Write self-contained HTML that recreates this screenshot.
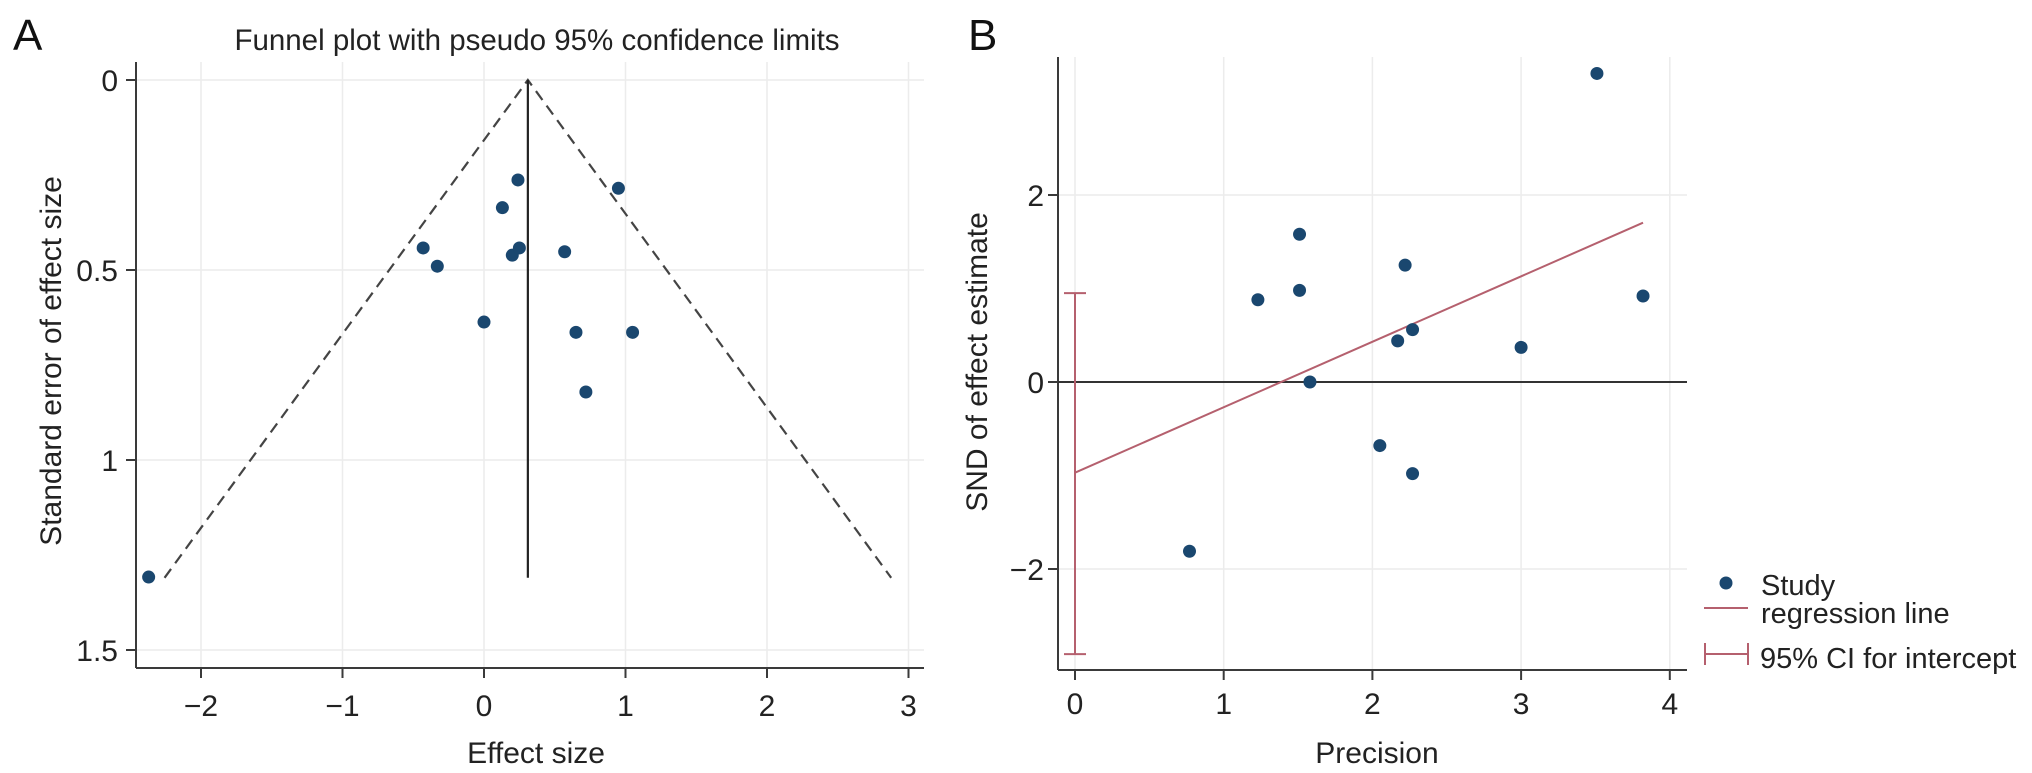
<!DOCTYPE html>
<html><head><meta charset="utf-8"><style>
html,body{margin:0;padding:0;background:#fff;}
svg{display:block;font-family:"Liberation Sans",sans-serif;}
</style></head><body>
<svg id="chart" width="2032" height="773" viewBox="0 0 2032 773" xmlns="http://www.w3.org/2000/svg">
<rect width="2032" height="773" fill="#fff"/>
<g id="pa"></g>
<g id="pb"></g>
</svg>
<script>
// Panel A data
const aEffect = [-2.37,-0.43,-0.33,0.0,0.13,0.24,0.20,0.25,0.57,0.65,0.72,0.95,1.05];
const aSE     = [1.308,0.442,0.49,0.637,0.336,0.263,0.461,0.442,0.452,0.664,0.821,0.285,0.664];
const aPooled = [0.31];
const aMaxSE  = [1.31];
const aXTicks = [-2,-1,0,1,2,3];
const aYTicks = [0,0.5,1,1.5];
const aYTickLabels = ["0","0.5","1","1.5"];
// Panel B data
const bPrecision = [0.77,1.23,1.51,1.51,1.58,3.51,2.22,3.82,2.27,2.17,3.0,2.05,2.27];
const bSND       = [-1.81,0.88,1.58,0.98,0.0,3.30,1.25,0.92,0.56,0.44,0.37,-0.68,-0.98];
const bIntercept = [-0.97];
const bSlope     = [0.70];
const bCI        = [-2.91,0.95];
const bXTicks = [0,1,2,3,4];
const bYTicks = [-2,0,2];

const NS="http://www.w3.org/2000/svg";
function mk(parent,tag,attrs,text){const e=document.createElementNS(NS,tag);for(const k in attrs)e.setAttribute(k,attrs[k]);if(text!==undefined)e.textContent=text;parent.appendChild(e);return e;}
const AX="#3a3a3a", GRID="#ececec", DOT="#1a476f", RED="#b5606e";
const FS=30;

// ---- Panel A ----
const pa=document.getElementById('pa');
const ax=v=>484+v*141.5, ay=v=>80+v*380;
const aL=136,aR=924,aT=62,aB=668;
let t;
t=mk(pa,'text',{x:13,y:50,'font-size':44,fill:'#111'},'A');


t=mk(pa,'text',{x:537,y:50,'font-size':29.5,fill:'#222','text-anchor':'middle'},'Funnel plot with pseudo 95% confidence limits');


aXTicks.forEach(v=>{
  const g=mk(pa,'line',{x1:ax(v),x2:ax(v),y1:aT,y2:aB,stroke:GRID,'stroke-width':1.5});
  
  
  const tk=mk(pa,'line',{x1:ax(v),x2:ax(v),y1:aB,y2:aB+10,stroke:AX,'stroke-width':2});
  
  
  const l=mk(pa,'text',{x:ax(v),y:716,'font-size':FS,fill:'#222','text-anchor':'middle'},v<0?'\u2212'+Math.abs(v):String(v));
  
  
});
aYTicks.forEach((v,i)=>{
  const g=mk(pa,'line',{x1:aL,x2:aR,y1:ay(v),y2:ay(v),stroke:GRID,'stroke-width':1.5});
  
  
  const tk=mk(pa,'line',{x1:aL-10,x2:aL,y1:ay(v),y2:ay(v),stroke:AX,'stroke-width':2});
  
  
  const l=mk(pa,'text',{x:aL-18,y:ay(v)+11,'font-size':FS,fill:'#222','text-anchor':'end'},aYTickLabels[i]);
  
  
});
t=mk(pa,'line',{x1:aL,x2:aL,y1:aT,y2:aB,stroke:AX,'stroke-width':2});


t=mk(pa,'line',{x1:aL,x2:aR,y1:aB,y2:aB,stroke:AX,'stroke-width':2});


t=mk(pa,'text',{x:536,y:763,'font-size':FS,fill:'#222','text-anchor':'middle'},'Effect size');


t=mk(pa,'text',{x:0,y:0,'font-size':FS,fill:'#222','text-anchor':'middle',transform:'translate(61,361) rotate(-90)'},'Standard error of effect size');


const p0=aPooled[0], m=aMaxSE[0];
t=mk(pa,'polyline',{points:`${ax(p0-1.96*m)},${ay(m)} ${ax(p0)},${ay(0)} ${ax(p0+1.96*m)},${ay(m)}`,fill:'none',stroke:'#444','stroke-width':2.2,'stroke-dasharray':'11,7'});


t=mk(pa,'line',{x1:ax(p0),x2:ax(p0),y1:ay(0),y2:ay(m),stroke:'#222','stroke-width':2.2});


aEffect.forEach((v,i)=>{
  const c=mk(pa,'circle',{cx:ax(v),cy:ay(aSE[i]),r:6.5,fill:DOT});
  
  
});

// ---- Panel B ----
const pb=document.getElementById('pb');
const bx=v=>1075+v*148.7, by=v=>382-v*93.5;
const bL=1058,bR=1687,bT=57,bB=670;
t=mk(pb,'text',{x:968,y:50,'font-size':44,fill:'#111'},'B');


bXTicks.forEach(v=>{
  const g=mk(pb,'line',{x1:bx(v),x2:bx(v),y1:bT,y2:bB,stroke:GRID,'stroke-width':1.5});
  
  
  const tk=mk(pb,'line',{x1:bx(v),x2:bx(v),y1:bB,y2:bB+10,stroke:AX,'stroke-width':2});
  
  
  const l=mk(pb,'text',{x:bx(v),y:714,'font-size':FS,fill:'#222','text-anchor':'middle'},String(v));
  
  
});
bYTicks.forEach(v=>{
  const g=mk(pb,'line',{x1:bL,x2:bR,y1:by(v),y2:by(v),stroke:GRID,'stroke-width':1.5});
  
  
  const tk=mk(pb,'line',{x1:bL-10,x2:bL,y1:by(v),y2:by(v),stroke:AX,'stroke-width':2});
  
  
  const l=mk(pb,'text',{x:bL-14,y:by(v)+11,'font-size':FS,fill:'#222','text-anchor':'end'},v<0?'\u2212'+Math.abs(v):String(v));
  
  
});
t=mk(pb,'line',{x1:bL,x2:bL,y1:bT,y2:bB,stroke:AX,'stroke-width':2});


t=mk(pb,'line',{x1:bL,x2:bR,y1:bB,y2:bB,stroke:AX,'stroke-width':2});


t=mk(pb,'line',{x1:bL,x2:bR,y1:by(0),y2:by(0),stroke:'#333','stroke-width':2});


t=mk(pb,'text',{x:1377,y:763,'font-size':FS,fill:'#222','text-anchor':'middle'},'Precision');


t=mk(pb,'text',{x:0,y:0,'font-size':FS,fill:'#222','text-anchor':'middle',transform:'translate(987,362) rotate(-90)'},'SND of effect estimate');


// CI error bar
const ciG=mk(pb,'g',{stroke:RED,'stroke-width':2});


mk(ciG,'line',{x1:bx(0),x2:bx(0),y1:by(bCI[0]),y2:by(bCI[1])});
mk(ciG,'line',{x1:bx(0)-11,x2:bx(0)+11,y1:by(bCI[0]),y2:by(bCI[0])});
mk(ciG,'line',{x1:bx(0)-11,x2:bx(0)+11,y1:by(bCI[1]),y2:by(bCI[1])});
// regression line
const xmax=Math.max(...bPrecision);
t=mk(pb,'line',{x1:bx(0),y1:by(bIntercept[0]),x2:bx(xmax),y2:by(bIntercept[0]+bSlope[0]*xmax),stroke:RED,'stroke-width':2});


bPrecision.forEach((v,i)=>{
  const c=mk(pb,'circle',{cx:bx(v),cy:by(bSND[i]),r:6.5,fill:DOT});
  
  
});
// legend
const lg=mk(pb,'g',{});


t=mk(lg,'circle',{cx:1726,cy:583,r:6.5,fill:DOT});


t=mk(lg,'text',{x:1761,y:595,'font-size':29,fill:'#222'},'Study');


t=mk(lg,'line',{x1:1704,x2:1748,y1:608,y2:608,stroke:RED,'stroke-width':2});


t=mk(lg,'text',{x:1761,y:623,'font-size':29,fill:'#222'},'regression line');


const lci=mk(lg,'g',{stroke:RED,'stroke-width':2});


mk(lci,'line',{x1:1705,x2:1748,y1:654,y2:654});
mk(lci,'line',{x1:1705,x2:1705,y1:643,y2:665});
mk(lci,'line',{x1:1748,x2:1748,y1:643,y2:665});
t=mk(lg,'text',{x:1760,y:668,'font-size':29,fill:'#222'},'95% CI for intercept');


</script>
</body></html>
